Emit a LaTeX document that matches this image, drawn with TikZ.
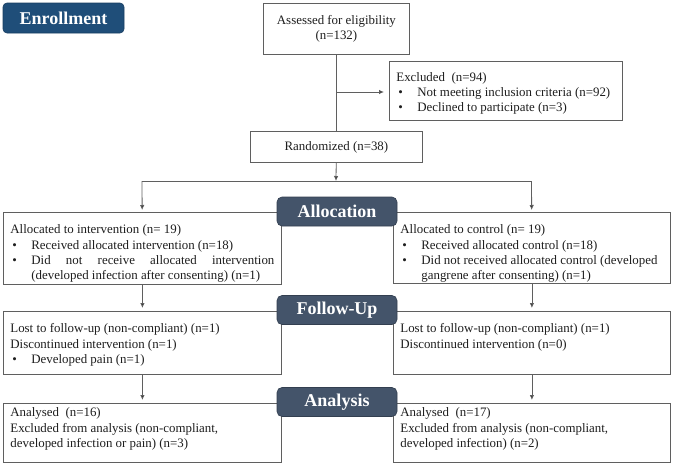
\documentclass[tikz,border=0pt]{standalone}
\usepackage{fontspec}
\setmainfont{Liberation Serif}
\usepackage{tikz}
\usetikzlibrary{arrows.meta}
\usepackage{xcolor}

\definecolor{enrollblue}{HTML}{1F4E79}
\definecolor{stageslate}{HTML}{44546A}
\definecolor{edgegray}{HTML}{5F5F5F}
\definecolor{inkgray}{HTML}{1E1E1E}

% text block inside a box: width, height, top padding, content
\newcommand{\boxtext}[4]{\parbox[c][#2][t]{#1}{\raggedright\vspace*{#3}#4}}
% bullet line with hanging indent
\newcommand{\bitem}{\par\hangindent=21pt\hangafter=1\noindent\makebox[21pt][l]{\hspace{2pt}\textbullet}}

\begin{document}
\begin{tikzpicture}[x=1pt, y=-1pt]
        % ================= styles =================
        \tikzset{
            % white box with grey border, text set at the top
            infobox/.style={draw=edgegray, line width=0.8pt, fill=white, anchor=north west, inner xsep=7pt, inner ysep=0pt, text=inkgray, font=\fontsize{12.9}{15.3}\selectfont},
            % white box with centred text
            centerbox/.style={draw=edgegray, line width=0.8pt, fill=white, anchor=north west, inner sep=0pt, align=center, text=inkgray, font=\fontsize{12.9}{15.3}\selectfont},
            % dark stage banners
            stagetab/.style={draw=stageslate!75!black, line width=0.6pt, fill=stageslate, rounded corners=5pt, minimum width=120pt, minimum height=29pt, inner sep=0pt, text=white, font=\fontsize{18}{20}\selectfont\bfseries},
            % blue enrollment banner
            enrolltab/.style={draw=enrollblue!80!black, line width=0.6pt, fill=enrollblue, rounded corners=4pt, minimum width=121pt, minimum height=30pt, inner sep=0pt, text=white, font=\fontsize{18}{20}\selectfont\bfseries},
            % plain connector
            link/.style={draw=edgegray, line width=0.8pt},
            % connector with arrow tip
            arrowlink/.style={link, -{Latex[length=5pt, width=4.5pt, fill=black!85]}}
        }

        \useasboundingbox (0,0) rectangle (675,474);

        % ================= enrollment =================
        \node[centerbox, minimum width=146pt, minimum height=51pt] (assess) at (263,3) {Assessed for eligibility\\(n=132)};
        \node[infobox] (excl) at (389,61) {\boxtext{219pt}{59pt}{11pt}{%
            Excluded\ \ (n=94)
            \bitem Not meeting inclusion criteria (n=92)
            \bitem Declined to participate (n=3)}};
        \node[centerbox, minimum width=172pt, minimum height=31pt] (rand) at (250,131) {Randomized (n=38)};

        % ================= allocation =================
        \node[infobox] (allocL) at (3,212) {\boxtext{264pt}{72pt}{12.5pt}{%
            Allocated to intervention (n= 19)
            \bitem Received allocated intervention (n=18)
            \bitem{\rightskip=0pt Did not receive allocated intervention\linebreak (developed infection after consenting) (n=1)\par}}};
        \node[infobox] (allocR) at (393,212) {\boxtext{263pt}{71pt}{12.5pt}{%
            Allocated to control (n= 19)
            \bitem Received allocated control (n=18)
            \bitem Did not received allocated control (developed\newline gangrene after consenting) (n=1)}};

        % ================= follow-up =================
        \node[infobox] (fuL) at (3,311) {\boxtext{264pt}{63pt}{12.5pt}{%
            Lost to follow-up (non-compliant) (n=1)\par
            Discontinued intervention (n=1)
            \bitem Developed pain (n=1)}};
        \node[infobox] (fuR) at (393,311) {\boxtext{263pt}{63pt}{12.5pt}{%
            Lost to follow-up (non-compliant) (n=1)\par
            Discontinued intervention (n=0)}};

        % ================= analysis =================
        \node[infobox] (anL) at (3,403) {\boxtext{264pt}{59pt}{4.5pt}{%
            Analysed\ \ (n=16)\par
            Excluded from analysis (non-compliant,\\developed infection or pain) (n=3)}};
        \node[infobox] (anR) at (393,403) {\boxtext{263pt}{59pt}{4.5pt}{%
            Analysed\ \ (n=17)\par
            Excluded from analysis (non-compliant,\\developed infection) (n=2)}};

        % ================= connectors =================
        \coordinate (mid) at (336,92);
        \coordinate (split) at (336,181);
        \coordinate (splitL) at (142,181);
        \coordinate (splitR) at (531.5,181);

        \draw[link] (assess) -- (rand);
        \draw[arrowlink, shorten >=5pt] (mid) -- (mid -| excl.west);
        \draw[arrowlink] (rand) -- (split);
        \draw[link] (splitL) -- (splitR);
        \draw[arrowlink, shorten >=2pt] (splitL) -- (allocL);
        \draw[arrowlink, shorten >=2pt] (splitR) -- (allocR);
        \draw[arrowlink, shorten >=3pt] (allocL) -- (fuL);
        \draw[arrowlink, shorten >=3pt] (allocR) -- (fuR);
        \draw[arrowlink, shorten >=3pt] (fuL) -- (anL);
        \draw[arrowlink, shorten >=3pt] (fuR) -- (anR);

        % ================= banners (on top) =================
        \node[enrolltab] (enroll) at (63.5,18) {Enrollment};
        \node[stagetab] (allocTab) at (337,211.5) {Allocation};
        \node[stagetab] (followTab) at (337,310) {Follow-Up};
        \node[stagetab] (analysisTab) at (337,402) {Analysis};

    \end{tikzpicture}
\end{document}
